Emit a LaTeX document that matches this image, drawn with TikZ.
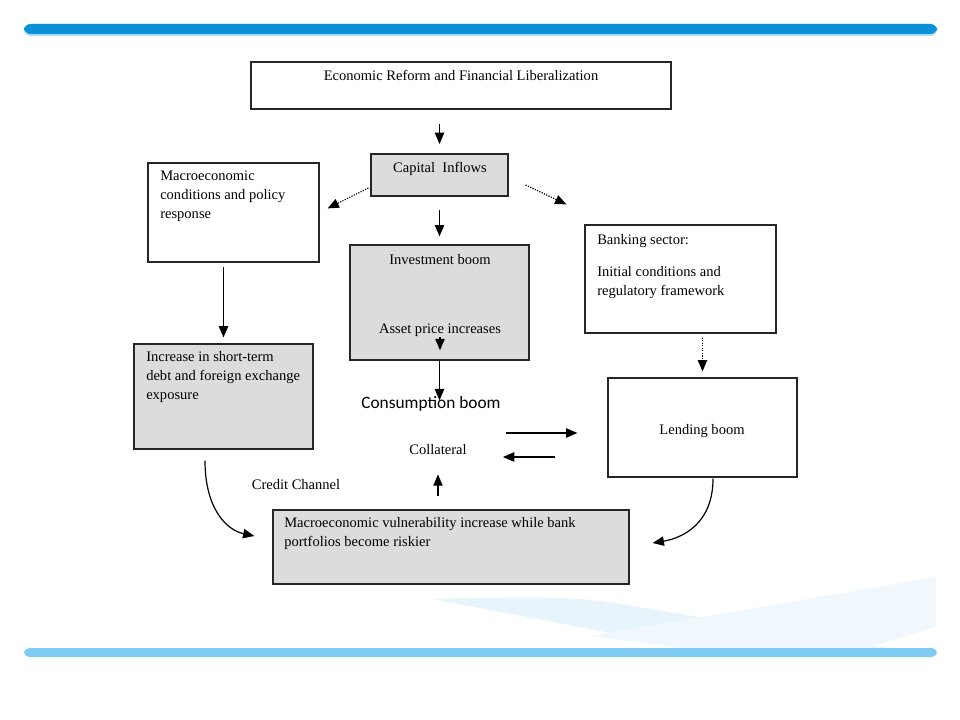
\documentclass[tikz,border=0pt]{standalone}
\usepackage{fontspec}
\setmainfont{Liberation Serif}
\newfontfamily\sansfont{Carlito}
\usepackage{tikz}
\usetikzlibrary{arrows.meta,fit,positioning}
\definecolor{topblue}{HTML}{0B8FD8}
\definecolor{toprim}{HTML}{A8DDF7}
\definecolor{lowblue}{HTML}{80CBF2}
\definecolor{swoosha}{HTML}{E8F4FC}
\definecolor{swooshb}{HTML}{F0F8FD}
\definecolor{boxgray}{HTML}{DCDCDC}
\tikzset{
  ar/.style={-{Triangle[length=8.5pt,width=7pt]},line width=0.9pt,black},
  dar/.style={ar,densely dotted},
  box/.style={draw=black!85,line width=0.9pt,inner sep=0pt},
  gbox/.style={box,fill=boxgray},
  txt/.style={font=\fontsize{10.9}{14.25}\selectfont,inner sep=0pt,align=left}
}
\begin{document}
\begin{tikzpicture}[x=0.75pt,y=-0.75pt]
\useasboundingbox (0,0) rectangle (960,720);
% slide background
\fill[swoosha] (432,599) .. controls (520,597) and (580,596) .. (620,604) -- (900,650) -- (700,650) -- cycle;
\fill[swooshb] (590,636) -- (936,577) -- (936,627) -- (860,650) -- (700,650) -- cycle;
\fill[toprim,rounded corners=5pt] (24,36) -- (24,24) -- (937,24) -- (937,36) -- cycle;
\fill[topblue,rounded corners=5pt] (24,34) -- (24,24) -- (937,24) -- (937,34) -- cycle;
\fill[lowblue,rounded corners=4pt] (24,648) -- (937,648) -- (937,657) -- (24,657) -- cycle;
% boxes
\node[box,fit={(251,62) (671,109)}] (reform) {};
\node[gbox,fit={(371,154) (508,196)}] (capital) {};
\node[box,fit={(148,163) (319,262)}] (macro) {};
\node[gbox,fit={(350,245) (529,360)}] (invest) {};
\node[gbox,fit={(134,344) (313,449)}] (short) {};
\node[box,fit={(585,225) (776,333)}] (bank) {};
\node[box,fit={(608,378) (797,477)}] (lending) {};
\node[gbox,fit={(273,510) (629,584)}] (vuln) {};
% texts
\node[txt,anchor=north] (reformtxt) at (461,70) {Economic Reform and Financial Liberalization};
\node[txt,anchor=north] (capitaltxt) at (440,162) {Capital\ \ Inflows};
\node[txt,anchor=north west] (macrotxt) at (160,171) {Macroeconomic\\conditions and policy\\response};
\node[txt,anchor=north] (investtxt) at (440,254) {Investment boom};
\node[txt,anchor=north] (asset) at (440,324) {Asset price increases};
\node[txt,anchor=north west] (shorttxt) at (146,351) {Increase in short-term\\debt and foreign exchange\\exposure};
\node[txt,anchor=north west] (banktxt) at (597,234) {Banking sector:\\[9.75pt]Initial conditions and\\regulatory framework};
\node[txt] (lendingtxt) at (702,431) {Lending boom};
\node[txt,anchor=north west] (vulntxt) at (284,517) {Macroeconomic vulnerability increase while bank\\portfolios become riskier};
\node[font=\sansfont\fontsize{13}{15}\selectfont,inner sep=0pt] (cons) at (431,404) {Consumption boom};
\node[txt] (collat) at (438,450) {Collateral};
\node[txt] (credit) at (296,485) {Credit Channel};
% connectors
\draw[ar,shorten <=11pt,shorten >=7pt] (reform.south -| capital.north) -- (capital.north);
\draw[dar] ([shift={(-2,13)}]capital.west) -- ([shift={(8,46)}]macro.north east);
\draw[dar] ([shift={(17,10)}]capital.east) -- ([shift={(-18,-20)}]bank.north west);
\draw[ar,shorten <=10pt,shorten >=6pt] (capital.south -| invest.north) -- (invest.north);
\draw[ar,shorten <=3pt,shorten >=4.5pt] (macro.south -| short.north) -- (short.north);
\draw[ar,shorten >=-3pt] (invest.south) -- (invest.south |- cons.north);
\draw[ar] (asset.south) -- ++(0,13);
\draw[ar] ([shift={(39,-17)}]collat.east) -- ([shift={(-30,5.5)}]lending.west);
\draw[ar] ([shift={(-52,29.5)}]lending.west) -- ([shift={(36,7)}]collat.east);
\draw[ar,shorten <=9.75pt] (vuln.north -| collat) -- ++(0,-35);
\draw[dar,shorten <=3pt,shorten >=4.5pt] (bank.south -| lending.north) -- (lending.north);
\draw[ar] ([shift={(-18.5,11)}]short.south) .. controls +(0,48) and +(-28,-6) .. ([shift={(-18,-11)}]vuln.west);
\draw[ar] ([shift={(10.5,1)}]lending.south) .. controls +(0,45) and +(30,-5) .. ([shift={(23,-4)}]vuln.east);
\end{tikzpicture}
\end{document}
